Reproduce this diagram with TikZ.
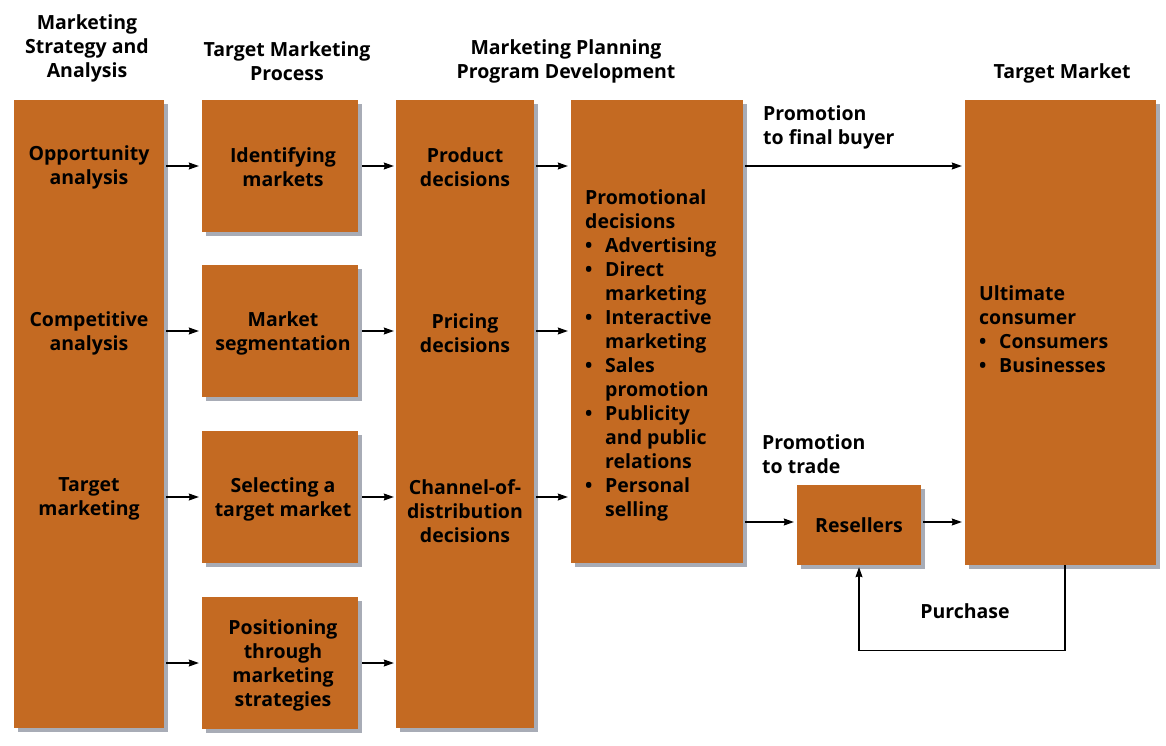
\documentclass[tikz,border=0pt]{standalone}
\usepackage{fontspec}
\setmainfont{Open Sans}
\usetikzlibrary{shadows,arrows.meta,calc}
\definecolor{boxc}{HTML}{C46A22}
\definecolor{shadowc}{HTML}{6E7585}
\begin{document}
\begin{tikzpicture}[x=1pt,y=-1pt,
  box/.style={fill=boxc, draw=none, inner sep=0pt,
    drop shadow={shadow xshift=4pt,shadow yshift=-4pt,fill=shadowc,opacity=0.6}},
  txt/.style={font=\bfseries\fontsize{19.5}{24}\selectfont, align=center, inner sep=0pt, text=black},
  ltxt/.style={font=\bfseries\fontsize{19.5}{24}\selectfont, align=left, inner sep=0pt, text=black},
  arr/.style={-{Stealth[length=10pt,width=7pt,inset=1pt]}, line width=1.1pt, black}]
\useasboundingbox (0,0) rectangle (1166,746);
\newcommand{\bul}{\makebox[20pt][l]{\textbullet}}
\newcommand{\ind}{\hspace*{20pt}}
% headers
\node[txt] (h1) at (87,48) {Marketing\\Strategy and\\Analysis};
\node[txt] (h2) at (287,61) {Target Marketing\\Process};
\node[txt] (h3) at (566,61) {Marketing Planning\\Program Development};
\node[txt] (h4) at (1062,73) {Target Market};
% boxes
\node[box, minimum width=150pt, minimum height=628pt] (c1) at (89,414) {};
\node[box, minimum width=156pt, minimum height=132pt] (b1) at (280,166) {};
\node[box, minimum width=156pt, minimum height=132pt] (b2) at (280,331) {};
\node[box, minimum width=156pt, minimum height=132pt] (b3) at (280,497) {};
\node[box, minimum width=156pt, minimum height=132pt] (b4) at (280,663) {};
\node[box, minimum width=138pt, minimum height=628pt] (c3) at (465,414) {};
\node[box, minimum width=172pt, minimum height=463pt] (c4) at (657,331.5) {};
\node[box, minimum width=124pt, minimum height=80pt] (r) at (859,525) {};
\node[box, minimum width=191pt, minimum height=465pt] (tm) at (1060.5,332.5) {};
% box texts
\node[txt] (t11) at (89,167) {Opportunity\\analysis};
\node[txt] (t12) at (89,333) {Competitive\\analysis};
\node[txt] (t13) at (89,499) {Target\\marketing};
\node[txt] (t21) at (283,167) {Identifying\\markets};
\node[txt] (t22) at (283,333) {Market\\segmentation};
\node[txt] (t23) at (283,499) {Selecting a\\target market};
\node[txt] (t24) at (283,665) {Positioning\\through\\marketing\\strategies};
\node[txt] (t31) at (465,167) {Product\\decisions};
\node[txt] (t32) at (465,333) {Pricing\\decisions};
\node[txt] (t33) at (465,511) {Channel-of-\\distribution\\decisions};
\node[ltxt, anchor=west] (t4) at (585,355) {Promotional\\decisions\\\bul Advertising\\\bul Direct\\\ind marketing\\\bul Interactive\\\ind marketing\\\bul Sales\\\ind promotion\\\bul Publicity\\\ind and public\\\ind relations\\\bul Personal\\\ind selling};
\node[txt] (tr) at (859,525) {Resellers};
\node[ltxt, anchor=west] (ttm) at (979,329) {Ultimate\\consumer\\\bul Consumers\\\bul Businesses};
% labels
\node[ltxt, anchor=west] (lp1) at (763,127) {Promotion\\to final buyer};
\node[ltxt, anchor=west] (lp2) at (762,454) {Promotion\\to trade};
\node[txt] (lpu) at (965,611) {Purchase};
% arrows col1 -> col2
\foreach \b in {b1,b2,b3,b4}{
  \draw[arr] ([xshift=2pt]c1.east |- \b.west) -- ([xshift=-3pt]\b.west);
  \draw[arr] ([xshift=4pt]\b.east) -- ([xshift=-2pt]c3.west |- \b.east);
}
\foreach \b in {b1,b2,b3}{
  \draw[arr] ([xshift=2pt]c3.east |- \b.east) -- ([xshift=-3pt]c4.west |- \b.east);
}
\draw[arr] ([xshift=2pt]c4.east |- b1.east) -- ([xshift=-3pt]tm.west |- b1.east);
\draw[arr] ([xshift=2pt,yshift=3pt]c4.east |- r.west) -- ([xshift=-3pt,yshift=3pt]r.west);
\draw[arr] ([xshift=2pt,yshift=3pt]r.east) -- ([xshift=-3pt,yshift=3pt]tm.west |- r.east);
\draw[arr] ([xshift=4.5pt]tm.south) |- ($(r.south)+(0,85)$) -- ([yshift=-2pt]r.south);
\end{tikzpicture}
\end{document}
